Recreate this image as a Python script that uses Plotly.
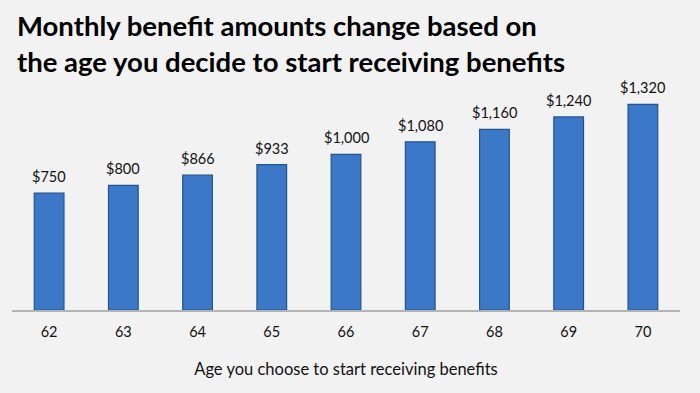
import plotly.graph_objects as go

ages = ["62", "63", "64", "65", "66", "67", "68", "69", "70"]
benefits = [750, 800, 866, 933, 1000, 1080, 1160, 1240, 1320]
labels = ["$750", "$800", "$866", "$933", "$1,000", "$1,080", "$1,160", "$1,240", "$1,320"]

title_text = "Monthly benefit amounts change based on<br>the age you decide to start receiving benefits"
x_title = "Age you choose to start receiving benefits"

FONT = "Lato, Open Sans, sans-serif"
W, H = 700, 393
L, R, T, B = 12, 20, 92, 83
plot_h = H - T - B
plot_w = W - L - R

def py(p):
    return (H - B - p) / plot_h

def px(p):
    return (p - L) / plot_w

fig = go.Figure(go.Bar(
    x=ages, y=benefits,
    marker=dict(color="#3b79c8", line=dict(color="#23548f", width=1.2)),
    width=0.4,
    hoverinfo="skip",
))

# category axis: annotations use the category index
for i, (v, t) in enumerate(zip(benefits, labels)):
    fig.add_annotation(x=i, y=v, text=t, showarrow=False, yanchor="bottom", yshift=6,
                       font=dict(family=FONT, size=14.5, color="#111111"))

fig.add_annotation(text=title_text, xref="paper", yref="paper", x=px(15), y=py(7),
                   xanchor="left", yanchor="top", align="left", showarrow=False,
                   font=dict(family=FONT, size=27.5, color="#000000", weight="bold"))

fig.update_layout(
    width=W, height=H,
    paper_bgcolor="#f2f2f2", plot_bgcolor="#f2f2f2",
    margin=dict(l=L, r=R, t=T, b=B),
    showlegend=False,
    xaxis=dict(type="category", showline=True, linecolor="#b3b3b3", linewidth=2, ticks="",
               showgrid=False, ticklabelstandoff=8, tickangle=0,
               tickfont=dict(family=FONT, size=14.5, color="#111111"),
               title=dict(text=x_title, standoff=24,
                          font=dict(family=FONT, size=16.5, color="#111111"))),
    yaxis=dict(range=[0, 1400], visible=False, showgrid=False),
    bargap=0.6,
)

fig.write_html("out.html", config={"displayModeBar": False},
               post_script="document.body.style.margin='0';document.body.style.background='#f2f2f2';")
